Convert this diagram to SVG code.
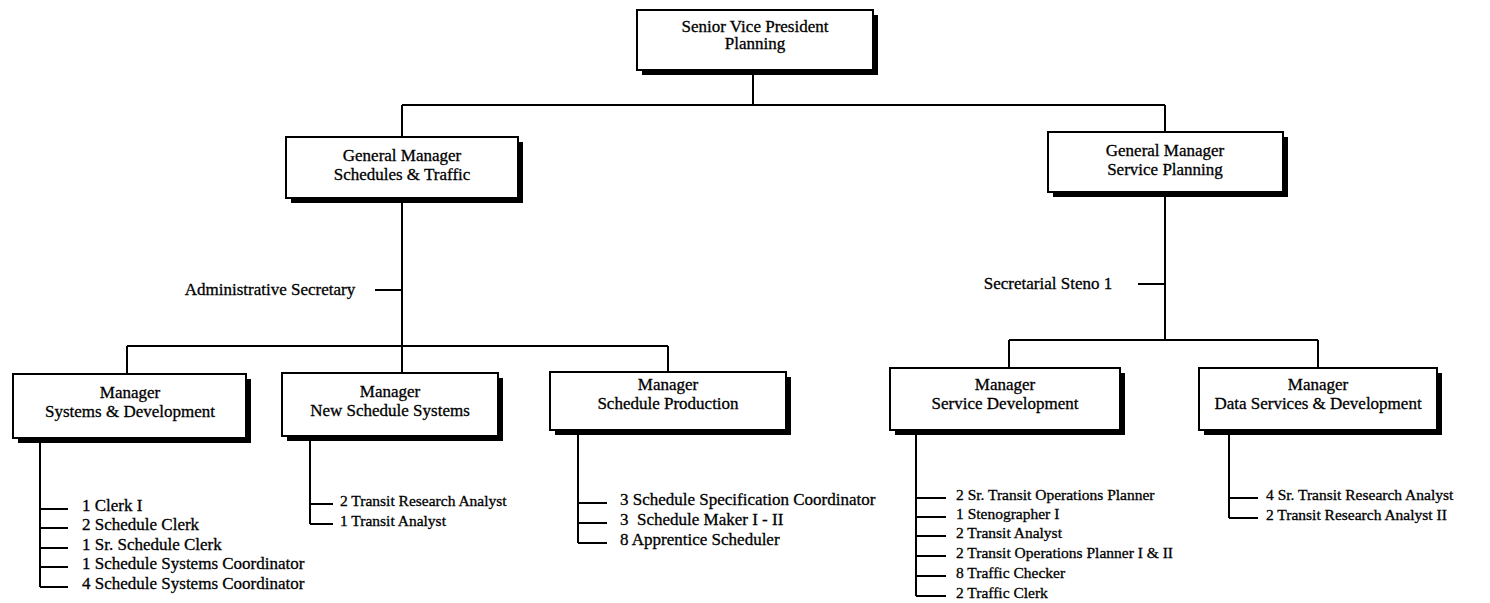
<svg xmlns="http://www.w3.org/2000/svg" width="1490" height="603" viewBox="0 0 1490 603">
<style>
  .shadow { fill: #000; }
  .box { fill: #fff; stroke: #000; stroke-width: 2; }
  .t { font-family: "Liberation Serif", "Times New Roman", serif; font-size: 17px; fill: #000; stroke: #000; stroke-width: 0.3; text-anchor: middle; }
  .l { font-family: "Liberation Serif", "Times New Roman", serif; font-size: 17px; fill: #000; stroke: #000; stroke-width: 0.3; white-space: pre; }
  .r { font-family: "Liberation Serif", "Times New Roman", serif; font-size: 15.5px; fill: #000; stroke: #000; stroke-width: 0.3; }
  .c { stroke: #000; stroke-width: 2; fill: none; }
</style>
<rect width="1490" height="603" fill="#fff"/>

<g id="connectors">
  <path class="c" d="M753 70 V105 M402 105 H1165 M402 105 V137 M1165 105 V132"/>
  <path class="c" d="M402 198 V373 M375 290 H402 M127 346 H668 M127 346 V374 M668 346 V372"/>
  <path class="c" d="M1165 192 V340 M1138 284 H1165 M1009 340 H1318 M1009 340 V368 M1318 340 V368"/>
  <path class="c" d="M40 438 V587 M40 509 H68 M40 528 H68 M40 548 H68 M40 567 H68 M40 587 H68"/>
  <path class="c" d="M310 436 V524 M310 504 H333 M310 524 H333"/>
  <path class="c" d="M578 430 V543 M578 503 H607 M578 523 H607 M578 543 H607"/>
  <path class="c" d="M916 430 V596 M916 498 H946 M916 517 H946 M916 536 H946 M916 556 H946 M916 576 H946 M916 596 H946"/>
  <path class="c" d="M1229 430 V518 M1229 498 H1258 M1229 518 H1258"/>
</g>

<g id="svp">
  <rect class="shadow" x="642" y="15" width="236" height="60"/>
  <rect class="box" x="637" y="10" width="236" height="60"/>
  <text class="t" x="755" y="32">Senior Vice President</text>
  <text class="t" x="755" y="49">Planning</text>
</g>

<g id="gm-schedules">
  <rect class="shadow" x="291" y="142" width="232" height="61"/>
  <rect class="box" x="286" y="137" width="232" height="61"/>
  <text class="t" x="402" y="161">General Manager</text>
  <text class="t" x="402" y="180">Schedules &amp; Traffic</text>
</g>

<g id="gm-service">
  <rect class="shadow" x="1053" y="137" width="235" height="60"/>
  <rect class="box" x="1048" y="132" width="235" height="60"/>
  <text class="t" x="1165" y="156">General Manager</text>
  <text class="t" x="1165" y="175">Service Planning</text>
</g>

<g id="admin-secretary">
  <text class="t" x="270" y="295">Administrative Secretary</text>
</g>

<g id="steno">
  <text class="t" x="1048" y="289">Secretarial Steno 1</text>
</g>

<g id="mgr-systems">
  <rect class="shadow" x="18" y="379" width="233" height="64"/>
  <rect class="box" x="13" y="374" width="233" height="64"/>
  <text class="t" x="130" y="398">Manager</text>
  <text class="t" x="130" y="417">Systems &amp; Development</text>
</g>

<g id="mgr-newsched">
  <rect class="shadow" x="287" y="378" width="216" height="63"/>
  <rect class="box" x="282" y="373" width="216" height="63"/>
  <text class="t" x="390" y="397">Manager</text>
  <text class="t" x="390" y="416">New Schedule Systems</text>
</g>

<g id="mgr-production">
  <rect class="shadow" x="555" y="377" width="236" height="58"/>
  <rect class="box" x="550" y="372" width="236" height="58"/>
  <text class="t" x="668" y="390">Manager</text>
  <text class="t" x="668" y="409">Schedule Production</text>
</g>

<g id="mgr-servicedev">
  <rect class="shadow" x="895" y="373" width="230" height="62"/>
  <rect class="box" x="890" y="368" width="230" height="62"/>
  <text class="t" x="1005" y="390">Manager</text>
  <text class="t" x="1005" y="409">Service Development</text>
</g>

<g id="mgr-data">
  <rect class="shadow" x="1204" y="373" width="238" height="62"/>
  <rect class="box" x="1199" y="368" width="238" height="62"/>
  <text class="t" x="1318" y="390">Manager</text>
  <text class="t" x="1318" y="409">Data Services &amp; Development</text>
</g>

<g id="list-systems">
  <text class="l" x="82" y="511">1 Clerk I</text>
  <text class="l" x="82" y="530">2 Schedule Clerk</text>
  <text class="l" x="82" y="550">1 Sr. Schedule Clerk</text>
  <text class="l" x="82" y="569">1 Schedule Systems Coordinator</text>
  <text class="l" x="82" y="589">4 Schedule Systems Coordinator</text>
</g>

<g id="list-newsched">
  <text class="r" x="340" y="506">2 Transit Research Analyst</text>
  <text class="r" x="340" y="526">1 Transit Analyst</text>
</g>

<g id="list-production">
  <text class="l" x="620" y="505">3 Schedule Specification Coordinator</text>
  <text class="l" x="620" y="525">3&#160; Schedule Maker I - II</text>
  <text class="l" x="620" y="545">8 Apprentice Scheduler</text>
</g>

<g id="list-servicedev">
  <text class="r" x="956" y="500">2 Sr. Transit Operations Planner</text>
  <text class="r" x="956" y="519">1 Stenographer I</text>
  <text class="r" x="956" y="538">2 Transit Analyst</text>
  <text class="r" x="956" y="558">2 Transit Operations Planner I &amp; II</text>
  <text class="r" x="956" y="578">8 Traffic Checker</text>
  <text class="r" x="956" y="598">2 Traffic Clerk</text>
</g>

<g id="list-data">
  <text class="r" x="1266" y="500">4 Sr. Transit Research Analyst</text>
  <text class="r" x="1266" y="520">2 Transit Research Analyst II</text>
</g>
</svg>
